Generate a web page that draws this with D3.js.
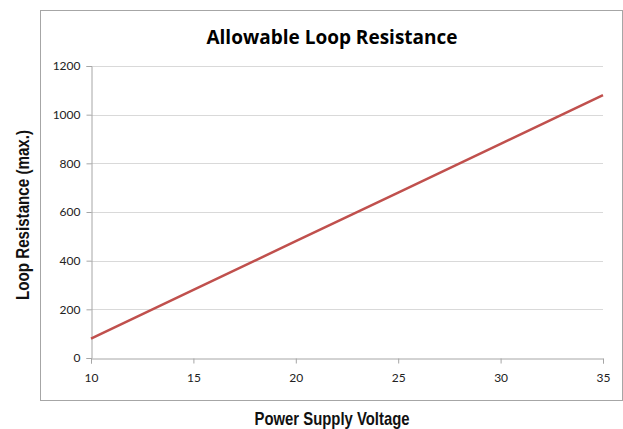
<!DOCTYPE html>
<html><head><meta charset="utf-8">
<script src="https://cdn.jsdelivr.net/npm/d3@7"></script>
<style>body{margin:0;background:#fff}</style>
</head><body>
<script>
const voltages = [10, 15, 20, 25, 30, 35];
const resistance = [80, 280, 480, 680, 880, 1080];
const xTicks = [10, 15, 20, 25, 30, 35];
const yTicks = [0, 200, 400, 600, 800, 1000, 1200];
const title = "Allowable Loop Resistance";
const xTitle = "Power Supply Voltage";
const yTitle = "Loop Resistance (max.)";

const W = 623, H = 429;
const svg = d3.select("body").append("svg").attr("width", W).attr("height", H);
svg.append("rect").attr("x", 40.5).attr("y", 10.5).attr("width", 582).attr("height", 390)
  .attr("fill", "#fff").attr("stroke", "#a6a6a6").attr("stroke-width", 1);

const x = d3.scaleLinear().domain([10, 35]).range([91, 603]);
const y = d3.scaleLinear().domain([0, 1200]).range([358, 66]);

svg.append("g").selectAll("line").data(yTicks.filter(d => d > 0)).join("line")
  .attr("x1", x(10)).attr("x2", x(35))
  .attr("y1", d => Math.round(y(d)) + 0.5).attr("y2", d => Math.round(y(d)) + 0.5)
  .attr("stroke", "#d9d9d9").attr("stroke-width", 1);

const tickFont = "Lato, 'Open Sans', sans-serif";
const ya = svg.append("g").attr("transform", `translate(${x(10) + 0.5},0)`)
  .call(d3.axisLeft(y).tickValues(yTicks).tickSize(5).tickPadding(6).tickFormat(d3.format("d")));
const xa = svg.append("g").attr("transform", `translate(0,${Math.round(y(0)) + 0.5})`)
  .call(d3.axisBottom(x).tickValues(xTicks).tickSize(5).tickPadding(10).tickFormat(d3.format("d")));
[ya, xa].forEach(a => {
  a.select(".domain").attr("stroke", "#a6a6a6");
  a.selectAll(".tick line").attr("stroke", "#a6a6a6");
  a.selectAll(".tick text").attr("fill", "#222").style("font-family", tickFont).style("font-size", "12px");
});

svg.append("path").datum(voltages.map((v, i) => [v, resistance[i]]))
  .attr("fill", "none").attr("stroke", "#c0504d").attr("stroke-width", 2.5)
  .attr("d", d3.line().x(d => x(d[0])).y(d => y(d[1])));

svg.append("text").attr("x", 332).attr("y", 44).attr("text-anchor", "middle")
  .style("font-family", "'Open Sans', Lato, sans-serif").style("font-weight", "bold").style("font-size", "19px")
  .attr("fill", "#000").text(title);

const condFont = "'Liberation Sans Narrow', 'Liberation Sans', Arial, sans-serif";
svg.append("text").attr("x", 332).attr("y", 425).attr("text-anchor", "middle")
  .attr("textLength", 155).attr("lengthAdjust", "spacingAndGlyphs")
  .style("font-family", condFont).style("font-weight", "bold").style("font-size", "19px")
  .attr("fill", "#111").text(xTitle);

svg.append("text").attr("transform", "translate(29,215) rotate(-90)").attr("text-anchor", "middle")
  .attr("textLength", 170).attr("lengthAdjust", "spacingAndGlyphs")
  .style("font-family", condFont).style("font-weight", "bold").style("font-size", "19px")
  .attr("fill", "#111").text(yTitle);
</script>
</body></html>
